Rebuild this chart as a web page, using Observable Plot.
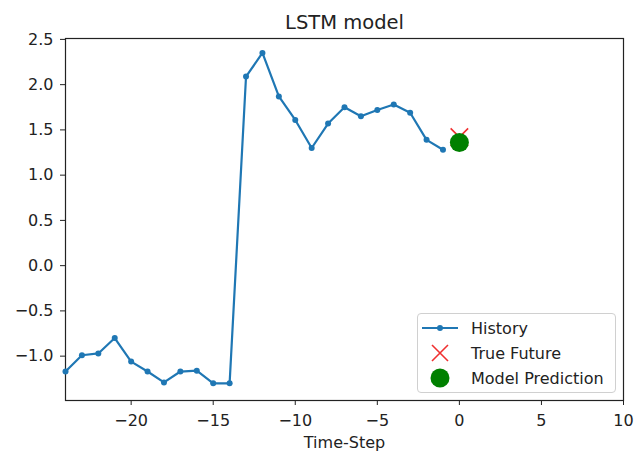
<!DOCTYPE html>
<html>
<head>
<meta charset="utf-8">
<script src="https://cdn.jsdelivr.net/npm/d3@7"></script>
<script src="https://cdn.jsdelivr.net/npm/@observablehq/plot@0.6"></script>
<style>
  html, body { margin: 0; padding: 0; background: #fff; }
  #wrap { position: relative; width: 639px; height: 455px; font-family: "DejaVu Sans", sans-serif; }
  #legend { position: absolute; left: 417px; top: 313px; width: 197px; height: 78px;
    border: 1px solid #d0d0d0; border-radius: 4px; background: rgba(255,255,255,0.85);
    font-size: 16px; color: #222; }
  .row { position: absolute; left: 0; height: 24px; display: flex; align-items: center; white-space: nowrap; }
  .row svg { margin-left: 3px; }
  .row span { margin-left: 12px; }
</style>
</head>
<body>
<div id="wrap"></div>
<script>
const title = "LSTM model";
const xLabel = "Time-Step";
const historySteps = [-24,-23,-22,-21,-20,-19,-18,-17,-16,-15,-14,-13,-12,-11,-10,-9,-8,-7,-6,-5,-4,-3,-2,-1];
const historyValues = [-1.17,-0.99,-0.97,-0.80,-1.06,-1.17,-1.29,-1.17,-1.16,-1.30,-1.30,2.09,2.35,1.87,1.61,1.30,1.57,1.75,1.65,1.72,1.78,1.69,1.39,1.28];
const futureStep = [0];
const trueFuture = [1.42];
const modelPrediction = [1.36];
const xTicks = [-20,-15,-10,-5,0,5,10];
const yTicks = [-1.0,-0.5,0.0,0.5,1.0,1.5,2.0,2.5];
const legendLabels = ["History","True Future","Model Prediction"];

const history = historySteps.map((t, i) => ({t, v: historyValues[i]}));
const truth = futureStep.map((t, i) => ({t, v: trueFuture[i]}));
const pred = futureStep.map((t, i) => ({t, v: modelPrediction[i]}));

const chart = Plot.plot({
  width: 639,
  height: 455,
  marginLeft: 65,
  marginRight: 16,
  marginTop: 38,
  marginBottom: 55,
  style: {fontFamily: "DejaVu Sans, sans-serif", fontSize: "16px", color: "#222", background: "#fff"},
  x: {domain: [-24, 10], ticks: xTicks, tickSize: 5, tickPadding: 9, label: null, tickFormat: d3.format("d")},
  y: {domain: [-1.49, 2.51], ticks: yTicks, tickSize: 5, tickPadding: 7, label: null, tickFormat: d3.format(".1f")},
  marks: [
    Plot.frame({stroke: "#222", strokeWidth: 1.2}),
    Plot.line(history, {x: "t", y: "v", stroke: "#1f77b4", strokeWidth: 2.2}),
    Plot.dot(history, {x: "t", y: "v", fill: "#1f77b4", r: 3}),
    Plot.dot(truth, {x: "t", y: "v", symbol: "times", stroke: "#f03030", strokeWidth: 1.6, r: 8}),
    Plot.dot(pred, {x: "t", y: "v", fill: "#008000", r: 9.5}),
    Plot.text([title], {frameAnchor: "top", lineAnchor: "middle", dy: -16, fontSize: 19.5, fill: "#222"}),
    Plot.text([xLabel], {frameAnchor: "bottom", lineAnchor: "middle", dy: 42, fontSize: 16, fill: "#222"})
  ]
});

const wrap = document.getElementById("wrap");
wrap.appendChild(chart);

const legend = document.createElement("div");
legend.id = "legend";
const symbols = [
  `<svg width="38" height="20"><line x1="1" y1="10" x2="37" y2="10" stroke="#1f77b4" stroke-width="2.2"/><circle cx="19" cy="10" r="3" fill="#1f77b4"/></svg>`,
  `<svg width="38" height="20"><path d="M11,2 L27,18 M27,2 L11,18" stroke="#f03030" stroke-width="1.6" fill="none"/></svg>`,
  `<svg width="38" height="20"><circle cx="19" cy="10" r="9.5" fill="#008000"/></svg>`
];
legendLabels.forEach((lab, i) => {
  const row = document.createElement("div");
  row.className = "row";
  row.style.top = (2 + i * 25) + "px";
  row.innerHTML = symbols[i] + `<span>${lab}</span>`;
  legend.appendChild(row);
});
wrap.appendChild(legend);
</script>
</body>
</html>
